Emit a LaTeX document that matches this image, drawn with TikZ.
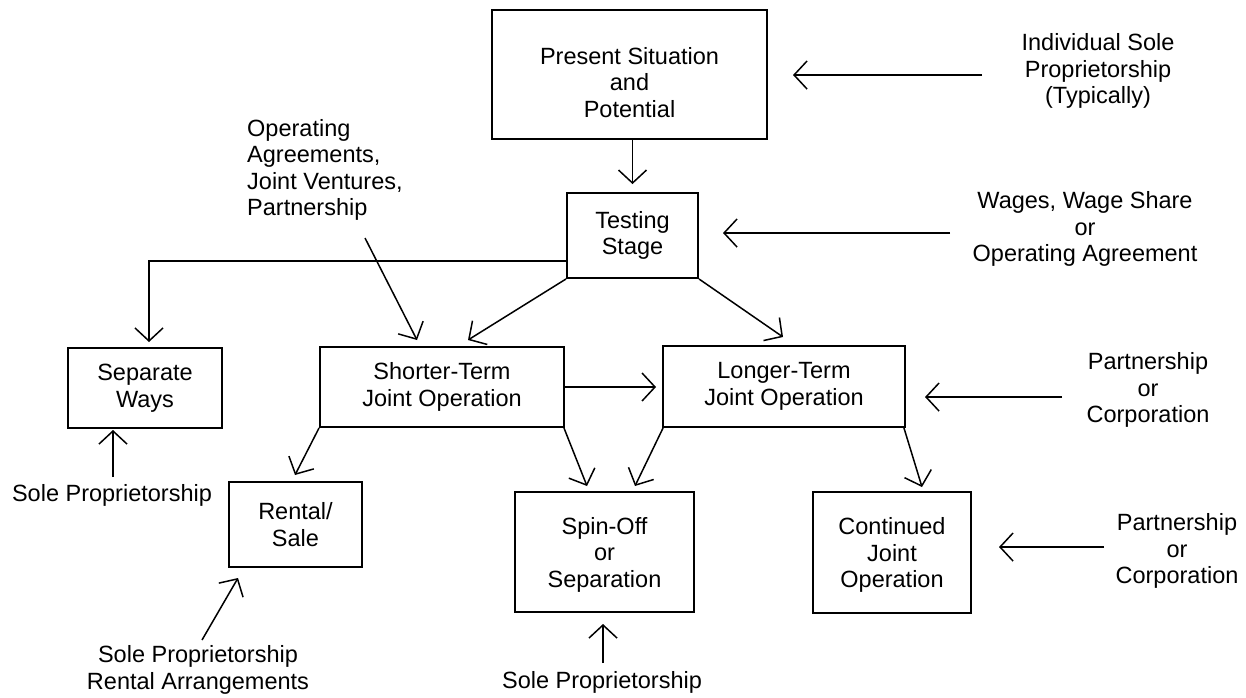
\documentclass[tikz,border=0pt]{standalone}
\usepackage{fontspec}
\setmainfont{Liberation Sans}
\usetikzlibrary{arrows.meta}
\newcommand\dfont{\fontsize{23.5}{26.5}\selectfont}
\begin{document}
\begin{tikzpicture}[x=1pt,y=-1pt,
  box/.style={draw, line width=1.9pt, inner sep=0pt, align=center, font=\dfont},
  lbl/.style={inner sep=0pt, align=center, font=\dfont},
  arr/.style={line width=1.5pt, -{Straight Barb[length=13pt,width=28pt,line width=1.5pt]}}
]
\useasboundingbox (0,0) rectangle (1246,697);

% boxes
\node[box, minimum width=275pt, minimum height=129pt] (present) at (629.5,74.5) {\rule{0pt}{33pt}Present Situation\\and\\Potential};
\node[box, minimum width=131pt, minimum height=85pt] (testing) at (632.5,235.5) {Testing\\Stage};
\node[box, minimum width=154pt, minimum height=80pt] (separate) at (145,388) {Separate\\Ways};
\node[box, minimum width=244pt, minimum height=80pt] (shorter) at (442,387) {Shorter-Term\\Joint Operation};
\node[box, minimum width=242pt, minimum height=81pt] (longer) at (784,386.5) {Longer-Term\\Joint Operation};
\node[box, minimum width=133pt, minimum height=85pt] (rental) at (295.5,524.5) {Rental/\\Sale};
\node[box, minimum width=179pt, minimum height=120pt] (spin) at (604.5,552) {\rule{0pt}{22pt}Spin-Off\\or\\Separation};
\node[box, minimum width=158pt, minimum height=121pt] (cont) at (892,552.5) {\rule{0pt}{22pt}Continued\\Joint\\Operation};

% side labels
\node[lbl] (indiv) at (1098,71) {Individual Sole\\Proprietorship\\(Typically)};
\node[lbl] (wages) at (1085,229) {Wages, Wage Share\\or\\Operating Agreement};
\node[lbl, align=left, anchor=west] (opag) at (247,170) {Operating\\Agreements,\\Joint Ventures,\\Partnership};
\node[lbl] (part1) at (1148,390) {Partnership\\or\\Corporation};
\node[lbl] (part2) at (1177,551) {Partnership\\or\\Corporation};
\node[lbl] (sole1) at (112,495) {Sole Proprietorship};
\node[lbl] (sole2) at (198,670) {Sole Proprietorship\\Rental Arrangements};
\node[lbl] (sole3) at (602,682) {Sole Proprietorship};

% arrow tail / tip coordinates
\coordinate (indivT) at (982,75);   \coordinate (indivH) at (793,75);
\coordinate (wagesT) at (950,233);  \coordinate (wagesH) at (723,233);
\coordinate (opagT) at (365,238);   \coordinate (opagH) at (417,340);
\coordinate (part1T) at (1062,397); \coordinate (part1H) at (925,397);
\coordinate (part2T) at (1104,547); \coordinate (part2H) at (999,547);
\coordinate (sole1T) at (113,477);  \coordinate (sole1H) at (113,430);
\coordinate (sole2T) at (202,640);  \coordinate (sole2H) at (238,578);
\coordinate (sole3T) at (603,663);  \coordinate (sole3H) at (603,624);
\coordinate (tsH) at (468,340);
\coordinate (tlH) at (783,337);
\coordinate (srH) at (295,475);
\coordinate (ssH) at (587,486);
\coordinate (lsH) at (635,486);
\coordinate (lcH) at (922,487);
\coordinate (sepH) at (149,342);

% connectors
\draw[arr, shorten >=8pt] (present.south -| testing.north) -- (testing.north);
\draw[arr] (indivT) -- (indivH);
\draw[arr] (wagesT) -- (wagesH);
\draw[arr] ([yshift=18pt]testing.south west) -| (sepH);
\draw[arr] (testing.south west) -- (tsH);
\draw[arr] (testing.south east) -- (tlH);
\draw[arr] (opagT) -- (opagH);
\draw[arr, shorten >=6pt] (shorter.east) -- (shorter.east -| longer.west);
\draw[arr] (part1T) -- (part1H);
\draw[arr] (sole1T) -- (sole1H);
\draw[arr] (shorter.south west) -- (srH);
\draw[arr] (sole2T) -- (sole2H);
\draw[arr] ([xshift=-1pt]shorter.south east) -- (ssH);
\draw[arr] ([xshift=1pt]longer.south west) -- (lsH);
\draw[arr] ([xshift=-2pt]longer.south east) -- (lcH);
\draw[arr] (part2T) -- (part2H);
\draw[arr] (sole3T) -- (sole3H);
\end{tikzpicture}
\end{document}
